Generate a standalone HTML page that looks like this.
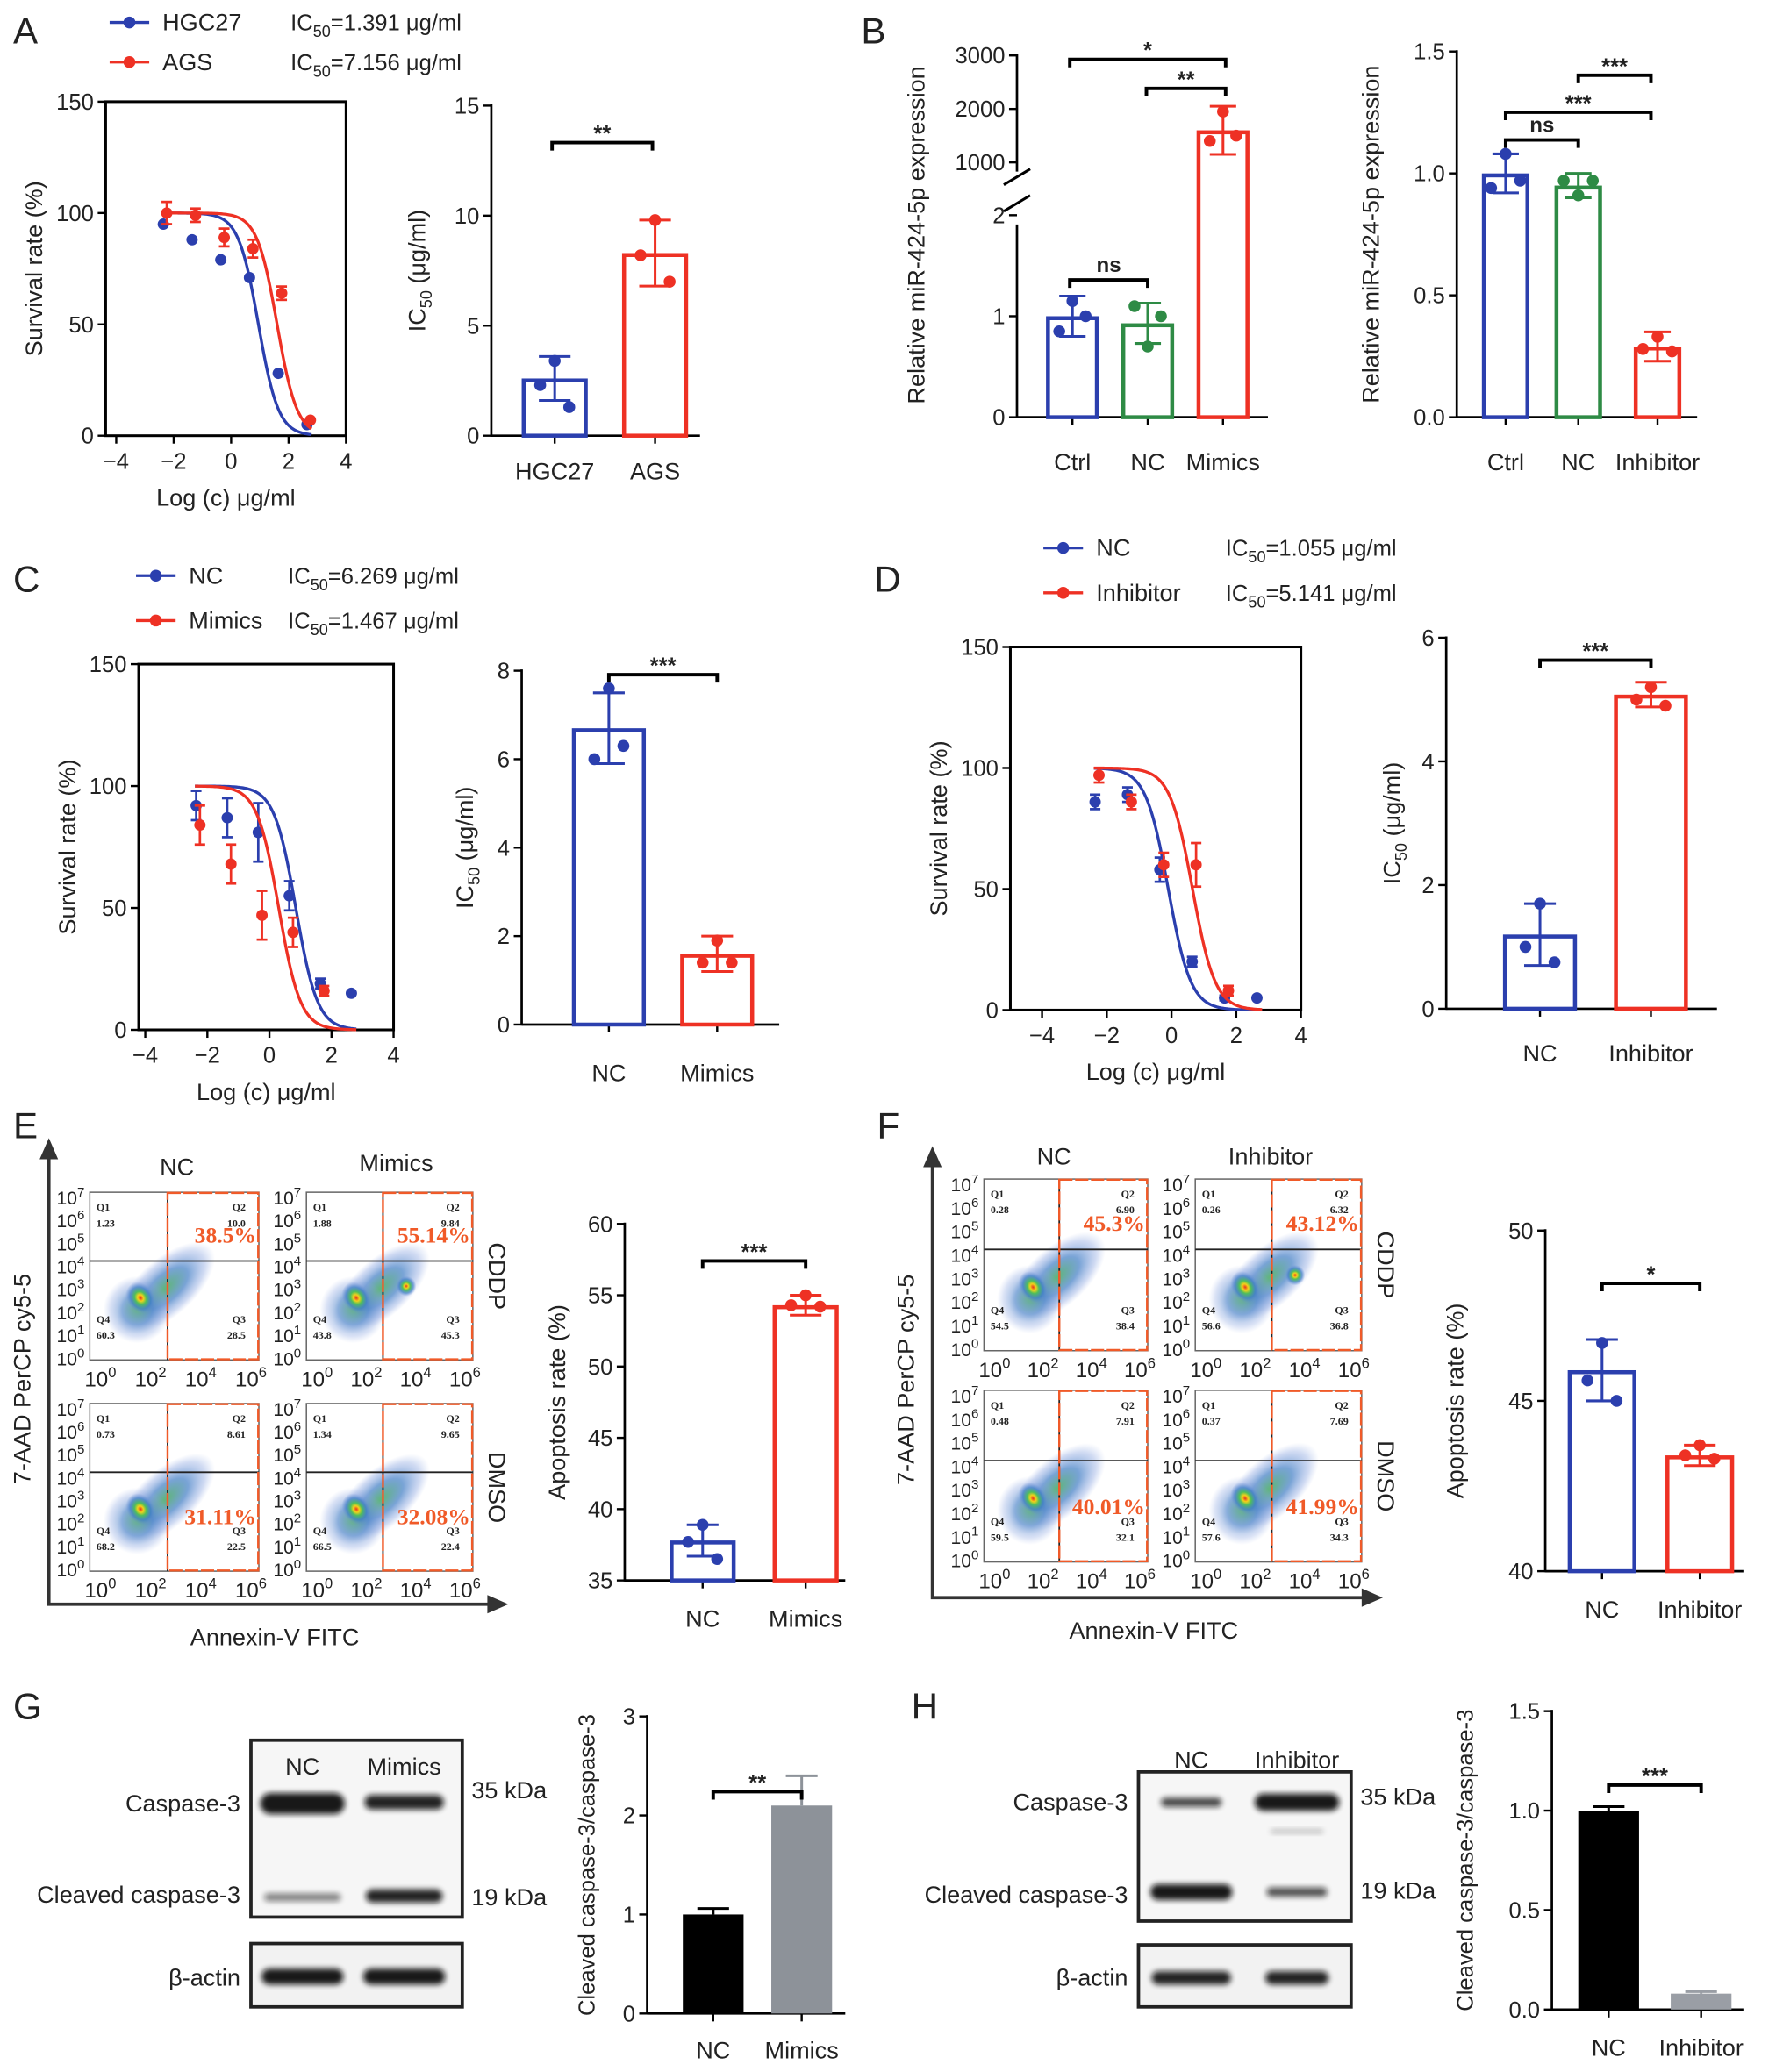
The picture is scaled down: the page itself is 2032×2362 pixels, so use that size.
<!DOCTYPE html>
<html><head><meta charset="utf-8">
<style>
html,body{margin:0;padding:0;background:#fff;}
svg{display:block;font-family:"Liberation Sans",Arial,sans-serif;}
</style></head>
<body>
<svg id="fig" width="2032" height="2362" viewBox="0 0 1350 1569.3" preserveAspectRatio="none" xmlns="http://www.w3.org/2000/svg">
<defs>
<radialGradient id="jet" cx="50%" cy="50%" r="50%">
<stop offset="0" stop-color="#e8321e"/>
<stop offset="0.2" stop-color="#f4d21a"/>
<stop offset="0.4" stop-color="#4fbf5a"/>
<stop offset="0.7" stop-color="#3f7fc6" stop-opacity="0.7"/>
<stop offset="1" stop-color="#6c8fd8" stop-opacity="0"/>
</radialGradient>
<radialGradient id="jet2" cx="50%" cy="50%" r="50%">
<stop offset="0" stop-color="#4fae6a" stop-opacity="0.9"/>
<stop offset="0.45" stop-color="#3f7cc4" stop-opacity="0.7"/>
<stop offset="0.8" stop-color="#7a98dc" stop-opacity="0.35"/>
<stop offset="1" stop-color="#9ab0e6" stop-opacity="0"/>
</radialGradient>
<filter id="blur" x="-20%" y="-80%" width="140%" height="260%"><feGaussianBlur stdDeviation="2.2"/></filter>
</defs>
</svg>
<script>
// ---------- DATA ----------
const doseX = [-2.3, -1.3, -0.3, 0.7, 1.7, 2.7];
const aHGC27 = [95, 88, 79, 71, 28, 5];
const aAGS = [100, 99, 89, 84, 64, 7];
const aErrAGS = [5, 3, 4, 4, 3, 0];
const aIC50 = [1.391, 7.156];
const aFitMid = [0.95, 1.6];
const cNC = [92, 87, 81, 55, 19, 15];
const cMimics = [84, 68, 47, 40, 16, null];
const cErrNC = [6, 8, 12, 6, 2, 0];
const cErrMim = [8, 8, 10, 6, 2, 0];
const cIC50 = [6.269, 1.467];
const cFitMid = [0.85, 0.3];
const dNC = [86, 89, 58, 20, 5, 5];
const dInh = [97, 86, 60, 60, 8, null];
const dErrNC = [3, 3, 5, 2, 1, 0];
const dErrInh = [3, 3, 5, 9, 2, 0];
const dIC50 = [1.055, 5.141];
const dFitMid = [-0.1, 0.65];

const aBarCats = ["HGC27", "AGS"];
const aBarVals = [2.6, 8.3];
const aBarErr = [1.0, 1.5];
const aBarPts = [[2.3, 3.4, 1.3], [8.2, 9.8, 7.0]];
const aBarTicks = [0, 5, 10, 15];

const bLCats = ["Ctrl", "NC", "Mimics"];
const bLVals = [1.0, 0.93, 1600];
const bLErr = [0.2, 0.2, 450];
const bLPts = [[0.85, 1.15, 1.0], [1.1, 0.7, 1.0], [1400, 1950, 1500]];
const bLTicksLow = [0, 1, 2];
const bLTicksHigh = [1000, 2000, 3000];

const bRCats = ["Ctrl", "NC", "Inhibitor"];
const bRVals = [1.0, 0.95, 0.29];
const bRErr = [0.08, 0.05, 0.06];
const bRPts = [[0.94, 1.08, 0.97], [0.97, 0.91, 0.97], [0.28, 0.33, 0.27]];
const bRTicks = [0, 0.5, 1.0, 1.5];

const cBarCats = ["NC", "Mimics"];
const cBarVals = [6.7, 1.6];
const cBarErr = [0.8, 0.4];
const cBarPts = [[6.0, 7.6, 6.3], [1.4, 1.9, 1.4]];
const cBarTicks = [0, 2, 4, 6, 8];

const dBarCats = ["NC", "Inhibitor"];
const dBarVals = [1.2, 5.08];
const dBarErr = [0.5, 0.2];
const dBarPts = [[1.0, 1.7, 0.75], [5.0, 5.2, 4.9]];
const dBarTicks = [0, 2, 4, 6];

const eBarCats = ["NC", "Mimics"];
const eBarVals = [37.8, 54.3];
const eBarErr = [1.1, 0.7];
const eBarPts = [[37.7, 38.9, 36.5], [54.3, 55.0, 54.2]];
const eBarTicks = [35, 40, 45, 50, 55, 60];

const fBarCats = ["NC", "Inhibitor"];
const fBarVals = [45.9, 43.4];
const fBarErr = [0.9, 0.3];
const fBarPts = [[45.6, 46.7, 45.0], [43.4, 43.7, 43.3]];
const fBarTicks = [40, 45, 50];

const gBarCats = ["NC", "Mimics"];
const gBarVals = [1.0, 2.1];
const gBarErr = [0.06, 0.3];
const gBarTicks = [0, 1, 2, 3];

const hBarCats = ["NC", "Inhibitor"];
const hBarVals = [1.0, 0.08];
const hBarErr = [0.02, 0.01];
const hBarTicks = [0, 0.5, 1.0, 1.5];

const eFlowQ = [["1.23","10.0","60.3","28.5","38.5%"],["1.88","9.84","43.8","45.3","55.14%"],["0.73","8.61","68.2","22.5","31.11%"],["1.34","9.65","66.5","22.4","32.08%"]];
const fFlowQ = [["0.28","6.90","54.5","38.4","45.3%"],["0.26","6.32","56.6","36.8","43.12%"],["0.48","7.91","59.5","32.1","40.01%"],["0.37","7.69","57.6","34.3","41.99%"]];

// ---------- HELPERS ----------
const NS = "http://www.w3.org/2000/svg";
const svg = document.getElementById("fig");
const BLUE = "#2b3fae", RED = "#ee3124", GREEN = "#2e8b45";
function add(parent, tag, attrs, name) {
  const el = document.createElementNS(NS, tag);
  for (const k in attrs) el.setAttribute(k, attrs[k]);
  
  
  parent.appendChild(el);
  return el;
}
function grp(name) { return add(svg, "g", {}, name); }
function line(p, x1, y1, x2, y2, name, stroke, w, extra) {
  const a = {x1, y1, x2, y2, stroke: stroke || "#000", "stroke-width": w || 1.6};
  if (extra) Object.assign(a, extra);
  return add(p, "line", a, name);
}
function text(p, x, y, s, name, size, anchor, extra) {
  const a = {x, y, "font-size": size || 17, "text-anchor": anchor || "middle", fill: "#222"};
  if (extra) Object.assign(a, extra);
  const t = add(p, "text", a, name);
  t.textContent = s;
  return t;
}
function ytitle(p, x, y, s, name, size) {
  const t = text(p, x, y, "", name, size || 18, "middle", {transform: `rotate(-90 ${x} ${y})`});
  if (s.indexOf("IC50") === 0) {
    const a = document.createElementNS(NS, "tspan"); a.textContent = "IC"; t.appendChild(a);
    const b = document.createElementNS(NS, "tspan"); b.setAttribute("font-size", 12); b.setAttribute("dy", 5); b.textContent = "50"; t.appendChild(b);
    const c = document.createElementNS(NS, "tspan"); c.setAttribute("dy", -5); c.textContent = s.slice(4); t.appendChild(c);
  } else t.textContent = s;
  return t;
}
function ic50Text(p, x, y, val, name) {
  const t = add(p, "text", {x, y, "font-size": 17, "text-anchor": "start", fill: "#222"}, name);
  const a = document.createElementNS(NS, "tspan"); a.textContent = "IC"; t.appendChild(a);
  const b = document.createElementNS(NS, "tspan"); b.setAttribute("font-size", 12); b.setAttribute("dy", 5); b.textContent = "50"; t.appendChild(b);
  const c = document.createElementNS(NS, "tspan"); c.setAttribute("dy", -5); c.textContent = "=" + val + " μg/ml"; t.appendChild(c);
}
function bracket(p, x1, x2, y, label, name) {
  const g = add(p, "g", {}, name);
  add(g, "path", {d: `M${x1} ${y + 6} V${y} H${x2} V${y + 6}`, stroke: "#000", "stroke-width": 2.6, fill: "none"}, name + "-line");
  text(g, (x1 + x2) / 2, label === "ns" ? y - 6 : y - 1, label, name + "-label", label === "ns" ? 16 : 17, "middle", {"font-weight": "bold"});
}

function barChart(o) {
  const g = grp(o.name);
  const ys = v => o.oy - (v - o.ymin) / (o.ymax - o.ymin) * (o.oy - o.top);
  line(g, o.ax, o.oy + 0.8, o.ax, o.top - 1, o.name + "-y-axis", "#000", 1.8);
  line(g, o.ax, o.oy, o.xend, o.oy, o.name + "-x-axis", "#000", 1.8);
  o.ticks.forEach(t => {
    line(g, o.ax - 6, ys(t), o.ax, ys(t), o.name + "-y-tick", "#000", 1.6);
    text(g, o.ax - 9, ys(t) + 6, o.tickFmt ? o.tickFmt(t) : String(t), o.name + "-y-tick-label", 17, "end");
  });
  o.cats.forEach((c, i) => {
    const cx = o.cx[i], col = o.colors[i], v = o.vals[i];
    line(g, cx, o.oy, cx, o.oy + 6, o.name + "-x-tick", "#000", 1.6);
    text(g, cx, o.oy + (o.lblOff || 35), c, o.name + "-x-label-" + c.toLowerCase(), 18);
    const y = ys(v);
    if (o.filled) {
      add(g, "rect", {x: cx - o.bw / 2, y, width: o.bw, height: o.oy - y, fill: col}, o.name + "-bar-" + c.toLowerCase());
    } else {
      add(g, "rect", {x: cx - o.bw / 2 + 1.5, y: y + 1.5, width: o.bw - 3, height: o.oy - y - 1.5, fill: "none", stroke: col, "stroke-width": 3}, o.name + "-bar-" + c.toLowerCase());
    }
    const e = o.errs[i], ew = o.capw || 12;
    line(g, cx, ys(v + e), cx, o.filled ? y : ys(v - e), o.name + "-error-bar", col, 2);
    line(g, cx - ew, ys(v + e), cx + ew, ys(v + e), o.name + "-error-cap", col, 2);
    if (!o.filled) line(g, cx - ew, ys(v - e), cx + ew, ys(v - e), o.name + "-error-cap", col, 2);
    if (o.pts) {
      const offs = [-11, 0, 11];
      o.pts[i].forEach((pv, j) => add(g, "circle", {cx: cx + offs[j], cy: ys(pv), r: 4.5, fill: col}, o.name + "-point"));
    }
  });
  if (o.ylabel) ytitle(g, o.ylx, (o.oy + o.top) / 2, o.ylabel, o.name + "-y-title", o.ylsize);
  if (o.brackets) o.brackets.forEach(b => bracket(g, b[0], b[1], b[2], b[3], o.name + "-sig"));
  return g;
}

function dosePlot(o) {
  const g = grp(o.name);
  const xs = v => o.x4n + (v + 4) / 8 * (o.x4p - o.x4n);
  const ys = v => o.y0 - v / 150 * (o.y0 - o.y150);
  add(g, "rect", {x: o.left, y: o.y150, width: xs(4) - o.left, height: o.y0 - o.y150, fill: "none", stroke: "#000", "stroke-width": 2}, o.name + "-frame");
  [-4, -2, 0, 2, 4].forEach(t => {
    line(g, xs(t), o.y0, xs(t), o.y0 + 6, o.name + "-x-tick", "#000", 1.6);
    text(g, xs(t), o.y0 + 25, t < 0 ? "−" + (-t) : String(t), o.name + "-x-tick-label", 17);
  });
  [0, 50, 100, 150].forEach(t => {
    line(g, o.left - 6, ys(t), o.left, ys(t), o.name + "-y-tick", "#000", 1.6);
    text(g, o.left - 9, ys(t) + 6, String(t), o.name + "-y-tick-label", 17, "end");
  });
  text(g, (o.left + xs(4)) / 2, o.y0 + 53, "Log (c) μg/ml", o.name + "-x-title", 18);
  ytitle(g, o.left - 48, (o.y0 + o.y150) / 2, "Survival rate (%)", o.name + "-y-title", 18);
  o.series.forEach((s, si) => {
    const mid = s.mid;
    let d = "";
    for (let k = 0; k <= 120; k++) {
      const x = -2.4 + k * (5.2 / 120);
      const y = 100 / (1 + Math.pow(10, (x - mid) * 1.25));
      d += (k ? "L" : "M") + xs(x).toFixed(2) + " " + ys(y).toFixed(2);
    }
    add(g, "path", {d, fill: "none", stroke: s.color, "stroke-width": 2.2}, o.name + "-fit-" + s.key);
    s.vals.forEach((v, i) => {
      if (v === null) return;
      const x = xs(doseX[i] + (si ? 0.06 : -0.06));
      if (s.err && s.err[i]) {
        line(g, x, ys(v + s.err[i]), x, ys(v - s.err[i]), o.name + "-err-" + s.key, s.color, 1.8);
        line(g, x - 4, ys(v + s.err[i]), x + 4, ys(v + s.err[i]), o.name + "-err-cap", s.color, 1.8);
        line(g, x - 4, ys(v - s.err[i]), x + 4, ys(v - s.err[i]), o.name + "-err-cap", s.color, 1.8);
      }
      add(g, "circle", {cx: x, cy: ys(v), r: 4.3, fill: s.color}, o.name + "-point-" + s.key);
    });
  });
  return g;
}
function legendIC(p, x, y, color, label, icx, val, name) {
  const g = add(p, "g", {}, name);
  line(g, x, y, x + 30, y, name + "-line", color, 2.2);
  add(g, "circle", {cx: x + 15, cy: y, r: 4.5, fill: color}, name + "-marker");
  text(g, x + 40, y + 6, label, name + "-label", 18, "start");
  ic50Text(g, icx, y + 6, val, name + "-ic50");
}
function panelLetter(x, y, s) { text(svg, x, y, s, "panel-label-" + s.toLowerCase(), 28, "start"); }

// ---------- PANEL A ----------
panelLetter(10, 33, "A");
const gA = grp("panel-a-legend");
legendIC(gA, 83, 17, BLUE, "HGC27", 220, aIC50[0], "legend-hgc27");
legendIC(gA, 83, 47, RED, "AGS", 220, aIC50[1], "legend-ags");
dosePlot({name: "panel-a-dose", left: 80, x4n: 88, x4p: 262, y0: 330, y150: 77,
  series: [{key: "hgc27", vals: aHGC27, mid: aFitMid[0], color: BLUE}, {key: "ags", vals: aAGS, mid: aFitMid[1], color: RED, err: aErrAGS}]});
barChart({name: "panel-a-bar", ax: 372, oy: 330, top: 80, ymin: 0, ymax: 15, ticks: aBarTicks, xend: 530, lblOff: 33,
  cats: aBarCats, cx: [420, 496], bw: 50, vals: aBarVals, errs: aBarErr, pts: aBarPts, colors: [BLUE, RED],
  ylabel: "IC50 (μg/ml)", ylx: 322, brackets: [[418, 494, 108, "**"]]});

// ---------- PANEL B ----------
panelLetter(652, 33, "B");
(function () {
  const g = grp("panel-b-left-bar");
  const ax = 770, oy = 316;
  const yl = v => oy - v / 2 * (316 - 163);
  const yh = v => 123 - (v - 1000) / 2000 * (123 - 42);
  const ys = v => v > 100 ? yh(v) : yl(v);
  line(g, ax, oy, ax, 170, "panel-b-y-axis-lower", "#000", 1.8);
  line(g, ax, 130, ax, 41, "panel-b-y-axis-upper", "#000", 1.8);
  line(g, 760, 160, 780, 148, "panel-b-axis-break", "#000", 2);
  line(g, 760, 140, 780, 128, "panel-b-axis-break", "#000", 2);
  line(g, ax, oy, 960, oy, "panel-b-x-axis", "#000", 1.8);
  bLTicksLow.forEach(t => { line(g, ax - 6, yl(t), ax, yl(t), "y-tick", "#000", 1.6); text(g, ax - 9, yl(t) + 6, String(t), "y-tick-label", 17, "end"); });
  bLTicksHigh.forEach(t => { line(g, ax - 6, yh(t), ax, yh(t), "y-tick", "#000", 1.6); text(g, ax - 9, yh(t) + 6, String(t), "y-tick-label", 17, "end"); });
  const cx = [812, 869, 926], cols = [BLUE, GREEN, RED];
  bLCats.forEach((c, i) => {
    const v = bLVals[i], e = bLErr[i], x = cx[i];
    line(g, x, oy, x, oy + 6, "x-tick", "#000", 1.6);
    text(g, x, 356, c, "x-label-" + c.toLowerCase(), 18);
    add(g, "rect", {x: x - 18.5, y: ys(v) + 1.5, width: 37, height: oy - ys(v) - 1.5, fill: "none", stroke: cols[i], "stroke-width": 3}, "bar-" + c.toLowerCase());
    line(g, x, ys(v + e), x, ys(v - e), "error-bar", cols[i], 2);
    line(g, x - 10, ys(v + e), x + 10, ys(v + e), "error-cap", cols[i], 2);
    line(g, x - 10, ys(v - e), x + 10, ys(v - e), "error-cap", cols[i], 2);
    [-10, 0, 10].forEach((o, j) => add(g, "circle", {cx: x + o, cy: ys(bLPts[i][j]), r: 4.5, fill: cols[i]}, "point"));
  });
  ytitle(g, 700, 178, "Relative miR-424-5p expression", "panel-b-left-y-title", 18);
  bracket(g, 810, 928, 45, "*", "sig-ctrl-mimics");
  bracket(g, 868, 928, 67, "**", "sig-nc-mimics");
  bracket(g, 810, 869, 212, "ns", "sig-ctrl-nc");
})();
barChart({name: "panel-b-right-bar", ax: 1103, oy: 316, top: 39, ymin: 0, ymax: 1.5, ticks: bRTicks, xend: 1285, lblOff: 40,
  tickFmt: t => t.toFixed(1), cats: bRCats, cx: [1140, 1195, 1255], bw: 36, vals: bRVals, errs: bRErr, pts: bRPts,
  colors: [BLUE, GREEN, RED], capw: 10, ylabel: "Relative miR-424-5p expression", ylx: 1044,
  brackets: [[1195, 1250, 57, "***"], [1140, 1250, 85, "***"], [1140, 1195, 106, "ns"]]});

// ---------- PANEL C ----------
panelLetter(10, 448, "C");
const gC = grp("panel-c-legend");
legendIC(gC, 103, 436, BLUE, "NC", 218, cIC50[0], "legend-nc");
legendIC(gC, 103, 470, RED, "Mimics", 218, cIC50[1], "legend-mimics");
dosePlot({name: "panel-c-dose", left: 105, x4n: 110, x4p: 298, y0: 780, y150: 503,
  series: [{key: "nc", vals: cNC, mid: cFitMid[0], color: BLUE, err: cErrNC}, {key: "mimics", vals: cMimics, mid: cFitMid[1], color: RED, err: cErrMim}]});
barChart({name: "panel-c-bar", ax: 395, oy: 776, top: 508, ymin: 0, ymax: 8, ticks: cBarTicks, xend: 590, lblOff: 43,
  cats: cBarCats, cx: [461, 543], bw: 56, vals: cBarVals, errs: cBarErr, pts: cBarPts, colors: [BLUE, RED],
  ylabel: "IC50 (μg/ml)", ylx: 358, brackets: [[461, 543, 511, "***"]]});

// ---------- PANEL D ----------
panelLetter(662, 448, "D");
const gD = grp("panel-d-legend");
legendIC(gD, 790, 415, BLUE, "NC", 928, dIC50[0], "legend-nc");
legendIC(gD, 790, 449, RED, "Inhibitor", 928, dIC50[1], "legend-inhibitor");
dosePlot({name: "panel-d-dose", left: 765, x4n: 789, x4p: 985, y0: 765, y150: 490,
  series: [{key: "nc", vals: dNC, mid: dFitMid[0], color: BLUE, err: dErrNC}, {key: "inhibitor", vals: dInh, mid: dFitMid[1], color: RED, err: dErrInh}]});
barChart({name: "panel-d-bar", ax: 1095, oy: 764, top: 483, ymin: 0, ymax: 6, ticks: dBarTicks, xend: 1300, lblOff: 40,
  cats: dBarCats, cx: [1166, 1250], bw: 56, vals: dBarVals, errs: dBarErr, pts: dBarPts, colors: [BLUE, RED],
  ylabel: "IC50 (μg/ml)", ylx: 1060, brackets: [[1166, 1250, 500, "***"]]});

// ---------- FLOW ----------
function flowBox(p, x, y, w, h, q, name, shape) {
  const g = add(p, "g", {}, name);
  const qx = x + w * 0.46, qy = y + h * 0.41;
  add(g, "rect", {x, y, width: w, height: h, fill: "#fff", stroke: "#666", "stroke-width": 1}, name + "-frame");
  const c1x = x + w * 0.3, c1y = y + h * 0.63;
  const mx = x + w * 0.45, my = y + h * 0.57;
  add(g, "ellipse", {cx: mx, cy: my, rx: w * 0.36, ry: h * 0.17, fill: "url(#jet2)", transform: `rotate(-42 ${mx} ${my})`}, name + "-cloud");
  add(g, "ellipse", {cx: x + w * 0.28, cy: y + h * 0.7, rx: w * 0.2, ry: h * 0.2, fill: "url(#jet2)", opacity: 0.8}, name + "-cloud");
  add(g, "ellipse", {cx: c1x, cy: c1y, rx: w * 0.08, ry: h * 0.1, fill: "url(#jet)", transform: `rotate(-35 ${c1x} ${c1y})`}, name + "-cloud-core");
  if (shape === 1) add(g, "ellipse", {cx: x + w * 0.6, cy: y + h * 0.56, rx: w * 0.06, ry: h * 0.06, fill: "url(#jet)"}, name + "-cloud-core");
  line(g, x, qy, x + w, qy, name + "-quadrant-h", "#222", 1.2);
  line(g, qx, y, qx, y + h, name + "-quadrant-v", "#222", 1.2);
  add(g, "rect", {x: qx, y: y + 0.5, width: x + w - qx - 0.5, height: h - 1, fill: "none", stroke: "#f05a28", "stroke-width": 1.6, "stroke-dasharray": "10 2"}, name + "-gate");
  const f = {"font-family": "Liberation Serif, serif", "font-weight": "bold"};
  text(g, x + 5, y + 14, "Q1", name + "-q1", 8, "start", f); text(g, x + 5, y + 26, q[0], name + "-q1v", 8, "start", f);
  text(g, x + w - 10, y + 14, "Q2", name + "-q2", 8, "end", f); text(g, x + w - 10, y + 26, q[1], name + "-q2v", 8, "end", f);
  text(g, x + 5, y + h - 28, "Q4", name + "-q4", 8, "start", f); text(g, x + 5, y + h - 16, q[2], name + "-q4v", 8, "start", f);
  text(g, x + w - 10, y + h - 28, "Q3", name + "-q3", 8, "end", f); text(g, x + w - 10, y + h - 16, q[3], name + "-q3v", 8, "end", f);
  text(g, x + w - 2, shape === 2 ? y + h * 0.72 : y + h * 0.3, q[4], name + "-apoptosis-pct", 17, "end", {"font-family": "Liberation Serif, serif", "font-weight": "bold", fill: "#f05a28"});
  for (let k = 0; k <= 7; k++) {
    const ty = y + h - k * (h / 7.3) - 1;
    const t = add(g, "text", {x: x - 4, y: ty + 5, "font-size": 14, "text-anchor": "end", fill: "#222"}, name + "-y-tick-label");
    t.textContent = "10";
    const s = document.createElementNS(NS, "tspan"); s.setAttribute("dy", -6); s.setAttribute("font-size", 10); s.textContent = k; t.appendChild(s);
  }
  [0, 2, 4, 6].forEach((k, i) => {
    const tx = x + 8 + i * (w - 14) / 3;
    const t = add(g, "text", {x: tx, y: y + h + 20, "font-size": 16, "text-anchor": "middle", fill: "#222"}, name + "-x-tick-label");
    t.textContent = "10";
    const s = document.createElementNS(NS, "tspan"); s.setAttribute("dy", -7); s.setAttribute("font-size", 11); s.textContent = k; t.appendChild(s);
  });
}
function flowPanel(name, boxes, q, cols, yAx, xAx) {
  const g = grp(name);
  add(g, "path", {d: `M${yAx[0]} ${yAx[1]} V${yAx[2]} H${xAx}`, fill: "none", stroke: "#333", "stroke-width": 2.5}, name + "-axes");
  add(g, "polygon", {points: `${yAx[0]},${yAx[1] - 12} ${yAx[0] - 7},${yAx[1] + 4} ${yAx[0] + 7},${yAx[1] + 4}`, fill: "#333"}, name + "-y-arrow");
  add(g, "polygon", {points: `${xAx + 12},${yAx[2]} ${xAx - 4},${yAx[2] - 7} ${xAx - 4},${yAx[2] + 7}`, fill: "#333"}, name + "-x-arrow");
  boxes.forEach((b, i) => flowBox(g, b[0], b[1], b[2], b[3], q[i], name + "-plot-" + (i + 1), b[4]));
  text(g, cols[0][0], cols[0][1], cols[0][2], name + "-col-nc", 18);
  text(g, cols[1][0], cols[1][1], cols[1][2], name + "-col-treat", 18);
  const r1 = boxes[1], r2 = boxes[3];
  text(g, r1[0] + r1[2] + 12, r1[1] + r1[3] / 2, "CDDP", name + "-row-cddp", 18, "middle", {transform: `rotate(90 ${r1[0] + r1[2] + 12} ${r1[1] + r1[3] / 2})`});
  text(g, r2[0] + r2[2] + 12, r2[1] + r2[3] / 2, "DMSO", name + "-row-dmso", 18, "middle", {transform: `rotate(90 ${r2[0] + r2[2] + 12} ${r2[1] + r2[3] / 2})`});
  ytitle(g, yAx[0] - 14, (yAx[1] + yAx[2]) / 2, "7-AAD PerCP cy5-5", name + "-y-title", 18);
  text(g, (yAx[0] + xAx) / 2 + 3, yAx[2] + 31, "Annexin-V FITC", name + "-x-title", 18);
}
panelLetter(10, 862, "E");
flowPanel("panel-e-flow", [[68, 903, 128, 127, 0], [232, 903, 126, 127, 1], [68, 1063, 128, 127, 2], [232, 1063, 126, 127, 2]], eFlowQ,
  [[134, 890, "NC"], [300, 887, "Mimics"]], [37, 874, 1215], 373);
barChart({name: "panel-e-bar", ax: 473, oy: 1197, top: 927, ymin: 35, ymax: 60, ticks: eBarTicks, xend: 640,
  cats: eBarCats, cx: [532, 610], bw: 50, vals: eBarVals, errs: eBarErr, pts: eBarPts, colors: [BLUE, RED],
  ylabel: "Apoptosis rate (%)", ylx: 428, brackets: [[532, 610, 955, "***"]]});
panelLetter(664, 862, "F");
flowPanel("panel-f-flow", [[745, 893, 124, 130, 0], [905, 893, 126, 130, 1], [745, 1053, 124, 130, 2], [905, 1053, 126, 130, 2]], fFlowQ,
  [[798, 882, "NC"], [962, 882, "Inhibitor"]], [706, 880, 1210], 1035);
barChart({name: "panel-f-bar", ax: 1170, oy: 1190, top: 932, ymin: 40, ymax: 50, ticks: fBarTicks, xend: 1320,
  cats: fBarCats, cx: [1213, 1287], bw: 52, vals: fBarVals, errs: fBarErr, pts: fBarPts, colors: [BLUE, RED],
  ylabel: "Apoptosis rate (%)", ylx: 1108, brackets: [[1213, 1287, 972, "*"]]});

// ---------- BLOTS ----------
function band(p, cx, cy, w, h, op, name) {
  add(p, "rect", {x: cx - w / 2, y: cy - h / 2, width: w, height: h, rx: h / 2, fill: "#111", opacity: op, filter: "url(#blur)"}, name);
}
function blot(name, x, w, lanes, top, box1, box2, bands, labels, kda, lanetxt) {
  const g = grp(name);
  add(g, "rect", {x, y: box1[0], width: w, height: box1[1], fill: "#f6f6f6", stroke: "#222", "stroke-width": 2.5}, name + "-membrane");
  add(g, "rect", {x, y: box2[0], width: w, height: box2[1], fill: "#f2f2f2", stroke: "#222", "stroke-width": 2.5}, name + "-actin-membrane");
  bands.forEach(b => band(g, lanes[b[0]], b[1], b[2], b[3], b[4], name + "-band"));
  labels.forEach(l => text(g, x - 8, l[0], l[1], name + "-row-label", 18, "end"));
  kda.forEach(k => text(g, x + w + 7, k[0], k[1], name + "-kda-label", 18, "start"));
  lanetxt.forEach((t, i) => text(g, lanes[i], top, t, name + "-lane-label", 18));
}
panelLetter(10, 1302, "G");
blot("panel-g-blot", 190, 160, [229, 306], 1344, [1318, 134], [1472, 48],
  [[0, 1366, 64, 16, 0.95], [1, 1365, 60, 11, 0.9], [0, 1437, 58, 6, 0.5], [1, 1436, 58, 10, 0.9], [0, 1497, 62, 12, 0.95], [1, 1497, 62, 12, 0.95]],
  [[1372, "Caspase-3"], [1441, "Cleaved caspase-3"], [1504, "β-actin"]], [[1362, "35 kDa"], [1443, "19 kDa"]], ["NC", "Mimics"]);
panelLetter(690, 1302, "H");
blot("panel-h-blot", 862, 161, [902, 982], 1339, [1342, 113], [1473, 47],
  [[0, 1365, 46, 7, 0.75], [1, 1365, 64, 13, 0.95], [1, 1387, 40, 3, 0.25], [0, 1433, 62, 12, 0.95], [1, 1433, 46, 7, 0.7], [0, 1498, 60, 10, 0.9], [1, 1498, 48, 10, 0.9]],
  [[1371, "Caspase-3"], [1441, "Cleaved caspase-3"], [1504, "β-actin"]], [[1367, "35 kDa"], [1438, "19 kDa"]], ["NC", "Inhibitor"]);
barChart({name: "panel-g-bar", ax: 490, oy: 1525, top: 1300, ymin: 0, ymax: 3, ticks: gBarTicks, xend: 640, lblOff: 34,
  cats: gBarCats, cx: [540, 607], bw: 46, vals: gBarVals, errs: gBarErr, colors: ["#000", "#8d9299"], filled: true, capw: 12,
  ylabel: "Cleaved caspase-3/caspase-3", ylx: 450, ylsize: 17, brackets: [[540, 607, 1357, "**"]]});
barChart({name: "panel-h-bar", ax: 1175, oy: 1522, top: 1296, ymin: 0, ymax: 1.5, ticks: hBarTicks, xend: 1320, lblOff: 35,
  tickFmt: t => t.toFixed(1), cats: hBarCats, cx: [1218, 1288], bw: 46, vals: hBarVals, errs: hBarErr, colors: ["#000", "#9a9ea5"], filled: true, capw: 12,
  ylabel: "Cleaved caspase-3/caspase-3", ylx: 1115, ylsize: 17, brackets: [[1218, 1288, 1352, "***"]]});
</script>
</body></html>
